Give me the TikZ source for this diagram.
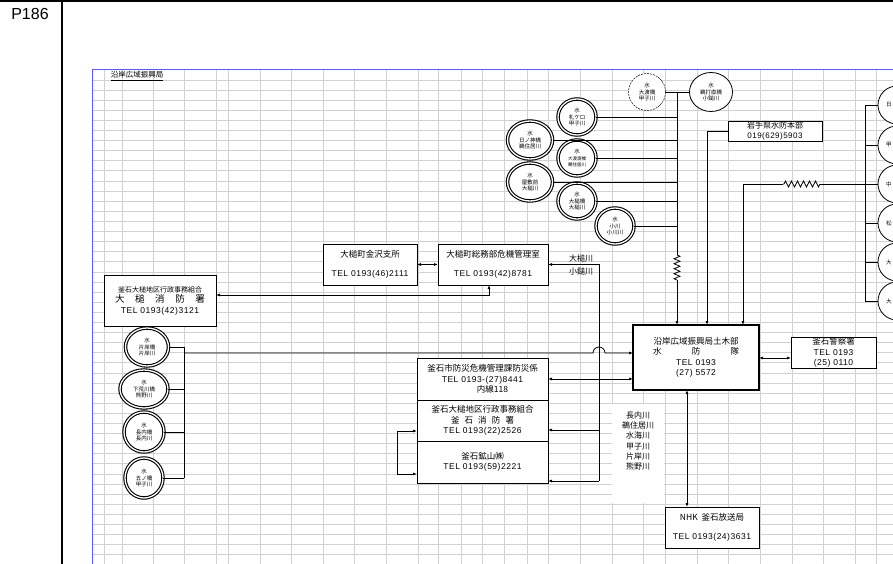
\documentclass[tikz,border=0pt]{standalone}
\usepackage{fontspec}
\setmainfont{Noto Sans CJK JP}
\newfontfamily\latinfont[LetterSpace=6]{Liberation Sans}
\newfontfamily\pagefont{Liberation Sans}
\usepackage{tikz}
\usetikzlibrary{shapes, positioning, calc, arrows.meta, decorations.pathmorphing}
\newcommand{\tel}[1]{{\latinfont #1}}
\newcommand{\spreadtext}[2]{\makebox[#1][s]{#2}}
\newcommand{\boxfont}{\fontsize{8.5}{10.5}\selectfont}
\newcommand{\stnfont}{\fontsize{5.5}{6.5}\selectfont}

\begin{document}
\begin{tikzpicture}[
    x = 1pt, y = -1pt, > = {Latex[length = 4pt, width = 3pt]},
    box/.style = {
      rectangle, draw, line width = 0.8pt, fill = white, inner sep = 0pt,
      outer sep = 0pt, align = center, font = \boxfont
    },
    station/.style = {
      ellipse, draw, fill = white, inner sep = 0pt, outer sep = 0pt,
      align = center, font = \stnfont, double, double distance = 1.3pt,
      line width = 1.1pt
    },
    gauge/.style = {
      ellipse, draw, fill = white, inner sep = 0pt, outer sep = 0pt,
      align = center, font = \stnfont, line width = 0.8pt,
      minimum width = 38pt, minimum height = 38pt
    },
    link/.style = {line width = 0.8pt},
    sheetline/.style = {draw = black!18, line width = 1pt},
    river/.style = {font = \fontsize{8}{10.2}\selectfont, align = center, inner sep = 0pt},
    zigzagged/.style = {
      decorate, decoration = {zigzag, segment length = #1, amplitude = 3pt}
    },
    ]
\fill [white] (0,0) rectangle (893,564);
\useasboundingbox (0,0) rectangle (893,564);

% sheet
\foreach \c in {104,122,153,184,216,228,260,291,323,354,386,418,438,461,482,504,
                527,548,580,612,643,665,697,728,760,792,823,855,876}
  \draw [sheetline] (\c,70) -- (\c,564);
\foreach \r in {1,...,49}
  \draw [sheetline] (92,{70+10.1*\r}) -- (893,{70+10.1*\r});
\draw [blue!65, line width = 1pt] (92,564) -- (92,70) -- (893,70);
\fill [white] (612,404) rectangle (664,503);

% page frame
\draw [line width = 1.3pt] (0,1) -- (893,1);
\draw [line width = 1.3pt] (62,0) -- (62,564);
\node  [font = \pagefont\fontsize{16}{16}\selectfont]  (page)  at  (30,14)  {P186};
\node  [font = \fontsize{7.5}{9}\selectfont, inner sep = 1pt]  (title)  at  (137,76)  {\underline{沿岸広域振興局}};

% offices
\node  [box, minimum width = 112pt, minimum height = 51pt]  (otsuchi_fd)  at  (160,300.5)
  {{\fontsize{7}{10}\selectfont 釜石大槌地区行政事務組合}\\
   {\fontsize{9.5}{11}\selectfont\spreadtext{90pt}{大\hfill 槌\hfill 消\hfill 防\hfill 署}}\\
   \tel{TEL 0193(42)3121}};
\node  [box, minimum width = 94pt, minimum height = 41pt]  (kanazawa)  at  (370,264.5)
  {大槌町金沢支所\\[9pt]\tel{TEL 0193(46)2111}};
\node  [box, minimum width = 110pt, minimum height = 41pt]  (somubu)  at  (493,264.5)
  {大槌町総務部危機管理室\\[9pt]\tel{TEL 0193(42)8781}};
\node  [box, minimum width = 131pt, minimum height = 42pt]  (bosai)  at  (482.5,379)
  {釜石市防災危機管理課防災係\\\tel{TEL 0193-(27)8441}\\\hspace*{20pt}内線118};
\node  [box, minimum width = 131pt, minimum height = 41pt]  (kamaishi_fd)  [below = 0pt of bosai]
  {釜石大槌地区行政事務組合\\\spreadtext{63pt}{釜\hfill 石\hfill 消\hfill 防\hfill 署}\\\tel{TEL 0193(22)2526}};
\node  [box, minimum width = 131pt, minimum height = 42pt]  (kozan)  [below = 0pt of kamaishi_fd]
  {釜石鉱山㈱\\\tel{TEL 0193(59)2221}};
\node  [box, line width = 2pt, minimum width = 126pt, minimum height = 65pt]  (dobokubu)  at  (696,357.5)
  {沿岸広域振興局土木部\\\spreadtext{86pt}{水\hfill 防\hfill 隊}\\\tel{TEL 0193}\\\tel{(27) 5572}};
\node  [box, minimum width = 85pt, minimum height = 31pt]  (police)  at  (833.5,352.5)
  {釜石警察署\\\tel{TEL 0193}\\\tel{(25) 0110}};
\node  [box, minimum width = 94pt, minimum height = 41pt]  (nhk)  at  (712,527.5)
  {NHK\ \ 釜石放送局\\[9pt]\tel{TEL 0193(24)3631}};
\node  [box, font = \fontsize{8}{9.5}\selectfont, minimum width = 94pt, minimum height = 20pt]  (honbu)  at  (775,131)
  {岩手県水防本部\\\tel{019(629)5903}};

% gauges
\node  [gauge, line width = 0.5pt, dash pattern = on 2pt off 1pt, minimum width = 37pt, minimum height = 37pt]  (ootobashi)  at  (647,92)  {水\\大渡橋\\甲子川};
\node  [gauge, minimum width = 43pt, minimum height = 39pt]  (udachi)  at  (711,92)  {水\\鵜打直橋\\小鎚川};
\node  [station, minimum width = 38pt, minimum height = 36pt]  (satsukeguchi)  at  (577,117)  {水\\札ケロ\\甲子川};
\node  [station, minimum width = 45pt, minimum height = 38pt]  (hinokami)  at  (530,140)  {水\\日ノ神橋\\鵜住居川};
\node  [station, minimum width = 38pt, minimum height = 36pt]  (ootowatari)  at  (577,158)
  {水\\{\fontsize{4.5}{6}\selectfont 大渡渡橋}\\{\fontsize{4.5}{6}\selectfont 鵜住居川}};
\node  [station, minimum width = 45pt, minimum height = 38pt]  (yashikimae)  at  (530,182)  {水\\屋敷前\\大槌川};
\node  [station, minimum width = 38pt, minimum height = 36pt]  (otsuchibashi)  at  (577,201)  {水\\大槌橋\\大槌川};
\node  [station, minimum width = 38pt, minimum height = 36pt]  (ogawa)  at  (615,226)  {水\\小川\\小川川};

\node  [station, minimum width = 43pt, minimum height = 38pt]  (katagishi)  at  (147,347)  {水\\片岸橋\\片岸川};
\node  [station, minimum width = 48pt, minimum height = 38pt]  (shimoarakawa)  at  (144,389)  {水\\下荒川橋\\熊野川};
\node  [station, minimum width = 40pt, minimum height = 40pt]  (osanai)  at  (144,432)  {水\\長内橋\\長内川};
\node  [station, minimum width = 38pt, minimum height = 40pt]  (itsunohashi)  at  (144,478)  {水\\五ノ橋\\甲子川};

\node  [gauge]  (r1)  at  (897,105)  {\makebox[22pt][l]{日}};
\node  [gauge]  (r2)  at  (897,145)  {\makebox[22pt][l]{甲}};
\node  [gauge]  (r3)  at  (897,184)  {\makebox[22pt][l]{中}};
\node  [gauge]  (r4)  at  (897,223)  {\makebox[22pt][l]{松}};
\node  [gauge]  (r5)  at  (897,262)  {\makebox[22pt][l]{大}};
\node  [gauge]  (r6)  at  (897,301)  {\makebox[22pt][l]{大}};

\node  [river]  (rivers)  at  (638,441)  {長内川\\鵜住居川\\水海川\\甲子川\\片岸川\\熊野川};
\node  [river]  (river_up)  at  (581,258)  {大槌川};
\node  [river]  (river_dn)  at  (581,271)  {小鎚川};

% top bus
\node  [coordinate]  (bus_top)  at  (677,93)  {};
\node  [coordinate]  (zz_a)  at  (677,255)  {};
\node  [coordinate]  (zz_b)  at  (677,280)  {};
\draw  [link]  (ootobashi.east)  --  (udachi.west);
\draw  [link]  (bus_top)  --  (zz_a);
\draw  [link, zigzagged = 5pt]  (zz_a)  --  (zz_b);
\draw  [link, ->]  (zz_b)  --  (bus_top |- dobokubu.north);
\foreach \s in {satsukeguchi, hinokami, ootowatari, yashikimae, otsuchibashi, ogawa}
  \draw  [link]  (\s.east)  --  (\s.east -| bus_top);

% right bus
\node  [coordinate]  (rbus)  at  (865,105)  {};
\node  [coordinate]  (zz_c)  at  (820,184)  {};
\node  [coordinate]  (zz_d)  at  (783,184)  {};
\node  [coordinate]  (r_bend)  at  (743,184)  {};
\draw  [link]  (rbus)  --  (rbus |- r6.west);
\foreach \s in {r1, r2, r3, r4, r5, r6}
  \draw  [link]  (\s.west)  --  (\s.west -| rbus);
\draw  [link]  (rbus |- r3.west)  --  (zz_c);
\draw  [link, zigzagged = 6pt]  (zz_c)  --  (zz_d);
\draw  [link, ->]  (zz_d)  --  (r_bend)  --  (r_bend |- dobokubu.north);
\node  [coordinate]  (h_bend)  at  (707,131)  {};
\draw  [link, ->]  (honbu.west)  --  (h_bend)  --  (h_bend |- dobokubu.north);

% left bus
\node  [coordinate]  (lbus)  at  (184,353)  {};
\node  [coordinate]  (hop)  at  (593,353)  {};
\draw  [link]  (katagishi.east -| lbus)  --  (itsunohashi.east -| lbus);
\foreach \s in {katagishi, shimoarakawa, osanai, itsunohashi}
  \draw  [link]  (\s.east)  --  (\s.east -| lbus);
\draw  [link, ->]  (lbus)  --  (hop)  arc [start angle = 180, end angle = 0, radius = 6pt]  --  (lbus -| dobokubu.west);

% middle feeder
\node  [coordinate]  (vbus)  at  (599,481)  {};
\node  [coordinate]  (tap_fd)  at  (599,430)  {};
\draw  [link, ->]  (vbus)  --  (vbus |- somubu.east)  --  (somubu.east);
\draw  [link, ->]  (tap_fd)  --  (tap_fd -| kamaishi_fd.east);
\draw  [link, ->]  (vbus)  --  (vbus -| kozan.east);
\draw  [link, <->]  (bosai.east)  --  (bosai.east -| dobokubu.west);
\node  [coordinate]  (brk_a)  at  (397,431)  {};
\node  [coordinate]  (brk_b)  at  (397,474)  {};
\draw  [link, ->]  (brk_a)  --  (brk_a -| kamaishi_fd.west);
\draw  [link, ->]  (brk_b)  --  (brk_b -| kozan.west);
\draw  [link]  (brk_a)  --  (brk_b);

% otsuchi side
\node  [coordinate]  (fd_link)  at  (489,295)  {};
\draw  [link, <->]  (kanazawa)  --  (somubu);
\draw  [link, <->]  (otsuchi_fd.east |- fd_link)  --  (fd_link)  --  (fd_link |- somubu.south);

% outward
\draw  [link, <->]  ([xshift = -9pt]dobokubu.south)  --  ([xshift = -9pt]dobokubu.south |- nhk.north);
\draw  [link, <->]  (dobokubu.east |- police.west)  ++  (0,5.5)  --  ([yshift = -5.5pt]police.west);
\end{tikzpicture}
\end{document}
